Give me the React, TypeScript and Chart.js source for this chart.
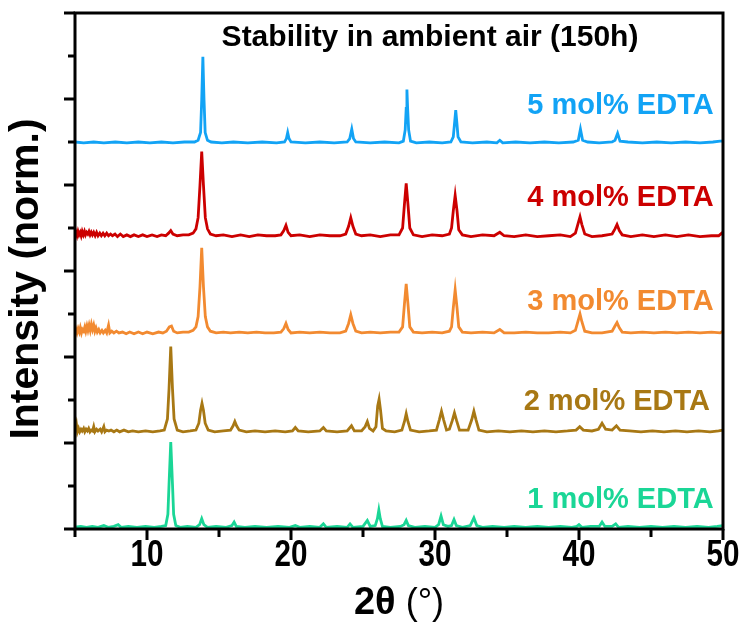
import React, { useEffect, useRef } from 'react';
import { Chart, registerables } from 'chart.js';

Chart.register(...registerables);

// ---------- data ----------
const X_MIN = 5;
const X_MAX = 50;
const Y_MIN = 0;
const Y_MAX = 6;
const X_STEP = 5;
const Y_STEP = 0.5;
const xTickLabels = ['10', '20', '30', '40', '50'];

const seriesNames = ['1 mol% EDTA', '2 mol% EDTA', '3 mol% EDTA', '4 mol% EDTA', '5 mol% EDTA'];
const seriesColors = ['#1ad696', '#a87814', '#f28a30', '#cc0000', '#12a3f5'];
const seriesOffsets = [0.02, 1.13, 2.27, 3.4, 4.49];
const labelX = [49.35, 49.1, 49.35, 49.35, 49.35];
const labelY = [0.34, 1.48, 2.64, 3.85, 4.92];

const titleText = 'Stability in ambient air (150h)';
const yTitle = 'Intensity (norm.)';
const xTitleBold = '2θ';
const xTitleRegular = ' (°)';

// 2θ (deg), normalized intensity (above each pattern's own baseline)
const pattern1: number[][] = [
  [5.0, 0.0], [5.4, 0.01], [5.8, 0.0], [6.2, 0.01], [6.6, 0.0], [7.0, 0.02], [7.3, 0.0], [7.7, 0.01], [8.0, 0.03], [8.2, 0.0],
  [8.7, 0.01], [9.3, 0.0], [9.9, 0.01], [10.5, 0.0], [11.0, 0.01], [11.3, 0.02], [11.45, 0.15], [11.53, 0.5], [11.65, 0.99],
  [11.77, 0.5], [11.85, 0.15], [12.0, 0.02], [12.3, 0.0], [12.8, 0.01], [13.4, 0.0], [13.65, 0.03], [13.8, 0.1], [13.95, 0.03],
  [14.2, 0.0], [14.8, 0.01], [15.5, 0.0], [15.9, 0.02], [16.05, 0.06], [16.2, 0.01], [16.8, 0.0], [17.5, 0.01], [18.3, 0.0],
  [19.1, 0.01], [19.9, 0.0], [20.3, 0.02], [20.6, 0.0], [21.3, 0.01], [22.0, 0.0], [22.25, 0.04], [22.45, 0.0], [23.2, 0.01],
  [23.9, 0.0], [24.1, 0.04], [24.3, 0.0], [25.0, 0.01], [25.3, 0.08], [25.5, 0.01], [25.85, 0.02], [26.0, 0.1], [26.1, 0.2],
  [26.2, 0.1], [26.35, 0.01], [26.9, 0.0], [27.6, 0.01], [27.85, 0.03], [28.0, 0.08], [28.15, 0.02], [28.6, 0.0], [29.3, 0.01],
  [30.0, 0.0], [30.25, 0.03], [30.42, 0.13], [30.58, 0.03], [30.9, 0.01], [31.15, 0.02], [31.32, 0.09], [31.48, 0.02],
  [31.9, 0.0], [32.45, 0.02], [32.7, 0.11], [32.9, 0.02], [33.3, 0.0], [34.0, 0.01], [34.8, 0.0], [35.5, 0.01], [36.3, 0.0],
  [37.1, 0.01], [37.9, 0.0], [38.7, 0.01], [39.5, 0.0], [39.85, 0.01], [40.0, 0.03], [40.2, 0.0], [40.8, 0.01], [41.4, 0.01],
  [41.6, 0.06], [41.8, 0.01], [42.3, 0.01], [42.55, 0.04], [42.75, 0.0], [43.4, 0.01], [44.2, 0.0], [45.0, 0.01], [45.8, 0.0],
  [46.6, 0.01], [47.4, 0.0], [48.2, 0.01], [49.0, 0.0], [49.6, 0.01], [50.0, 0.02],
];

const pattern2: number[][] = [
  [5.0, 0.02], [5.1, 0.09], [5.17, 0.0], [5.25, 0.04], [5.33, 0.0], [5.42, 0.03], [5.5, 0.01], [5.6, 0.04], [5.68, 0.0],
  [5.77, 0.03], [5.86, 0.01], [5.95, 0.04], [6.04, 0.0], [6.13, 0.02], [6.22, 0.01], [6.3, 0.06], [6.38, 0.0], [6.5, 0.03],
  [6.6, 0.01], [6.75, 0.03], [6.85, 0.0], [7.0, 0.06], [7.08, 0.0], [7.2, 0.02], [7.35, 0.01], [7.5, 0.02], [7.7, 0.0], [7.9, 0.02],
  [8.1, 0.0], [8.4, 0.02], [8.7, 0.0], [9.0, 0.01], [9.4, 0.0], [9.9, 0.01], [10.4, 0.0], [10.9, 0.01],
  [11.2, 0.02], [11.42, 0.15], [11.53, 0.5], [11.65, 0.99], [11.77, 0.5], [11.88, 0.15], [12.1, 0.02], [12.5, 0.0], [13.0, 0.01],
  [13.4, 0.02], [13.6, 0.1], [13.72, 0.25], [13.82, 0.33], [13.92, 0.25], [14.04, 0.1], [14.25, 0.02], [14.7, 0.0], [15.3, 0.01],
  [15.8, 0.02], [15.98, 0.07], [16.1, 0.12], [16.22, 0.07], [16.4, 0.02], [16.9, 0.0], [17.5, 0.01], [18.2, 0.0], [18.9, 0.01],
  [19.6, 0.0], [20.1, 0.01], [20.3, 0.05], [20.5, 0.01], [21.2, 0.0], [22.0, 0.01], [22.25, 0.05], [22.45, 0.01], [23.2, 0.0],
  [23.9, 0.01], [24.2, 0.07], [24.4, 0.01], [24.9, 0.01], [25.15, 0.06], [25.3, 0.12], [25.45, 0.04], [25.7, 0.01], [25.9, 0.06],
  [26.02, 0.3], [26.12, 0.38], [26.22, 0.25], [26.35, 0.04], [26.6, 0.01], [27.2, 0.0], [27.7, 0.02], [27.88, 0.12], [28.0, 0.21],
  [28.12, 0.12], [28.3, 0.02], [28.9, 0.0], [29.6, 0.01], [30.1, 0.02], [30.3, 0.14], [30.45, 0.24], [30.6, 0.14], [30.8, 0.02],
  [31.0, 0.03], [31.2, 0.13], [31.35, 0.22], [31.5, 0.13], [31.7, 0.02], [32.3, 0.02], [32.55, 0.14], [32.7, 0.24], [32.85, 0.14],
  [33.05, 0.02], [33.6, 0.0], [34.4, 0.01], [35.2, 0.0], [36.0, 0.01], [36.8, 0.0], [37.6, 0.01], [38.4, 0.0], [39.2, 0.01],
  [39.8, 0.02], [40.05, 0.06], [40.3, 0.02], [40.9, 0.01], [41.35, 0.03], [41.6, 0.1], [41.85, 0.03], [42.3, 0.02], [42.6, 0.07],
  [42.85, 0.02], [43.5, 0.01], [44.3, 0.0], [45.1, 0.01], [45.9, 0.0], [46.7, 0.01], [47.5, 0.0], [48.3, 0.01], [49.1, 0.0],
  [49.7, 0.01], [50.0, 0.02],
];

const pattern3: number[][] = [
  [5.0, 0.0], [5.07, 0.05], [5.14, 0.01], [5.22, 0.06], [5.3, 0.02], [5.37, 0.07], [5.45, 0.01], [5.52, 0.05], [5.6, 0.03],
  [5.68, 0.08], [5.75, 0.03], [5.83, 0.09], [5.9, 0.04], [5.98, 0.1], [6.06, 0.04], [6.14, 0.11], [6.22, 0.05], [6.3, 0.1],
  [6.38, 0.03], [6.46, 0.07], [6.55, 0.02], [6.65, 0.05], [6.75, 0.01], [6.87, 0.04], [6.97, 0.01], [7.1, 0.04], [7.2, 0.01],
  [7.33, 0.1], [7.42, 0.01], [7.55, 0.03], [7.7, 0.01], [7.88, 0.03], [8.05, 0.01], [8.3, 0.02], [8.55, 0.0], [8.8, 0.02],
  [9.1, 0.0], [9.4, 0.02], [9.7, 0.0], [10.0, 0.02], [10.4, 0.0], [10.8, 0.02], [11.1, 0.01], [11.35, 0.03], [11.55, 0.08],
  [11.7, 0.09], [11.85, 0.03], [12.1, 0.01], [12.5, 0.02], [12.9, 0.02], [13.2, 0.04], [13.4, 0.08], [13.55, 0.2], [13.68, 0.55],
  [13.8, 1.0], [13.92, 0.55], [14.05, 0.2], [14.2, 0.08], [14.4, 0.03], [14.8, 0.01], [15.3, 0.02], [15.8, 0.01], [16.4, 0.02],
  [17.0, 0.01], [17.6, 0.02], [18.2, 0.01], [18.8, 0.01], [19.3, 0.02], [19.5, 0.06], [19.65, 0.12], [19.8, 0.05], [20.0, 0.01],
  [20.6, 0.02], [21.3, 0.01], [22.0, 0.02], [22.7, 0.01], [23.4, 0.01], [23.8, 0.03], [24.0, 0.12], [24.15, 0.22], [24.3, 0.12],
  [24.5, 0.03], [24.9, 0.01], [25.5, 0.02], [26.2, 0.01], [26.9, 0.02], [27.5, 0.02], [27.75, 0.08], [27.88, 0.35], [28.0, 0.58],
  [28.12, 0.35], [28.25, 0.08], [28.5, 0.02], [29.1, 0.01], [29.8, 0.02], [30.5, 0.01], [31.0, 0.03], [31.15, 0.08], [31.27, 0.3],
  [31.4, 0.51], [31.53, 0.3], [31.65, 0.08], [31.9, 0.02], [32.5, 0.01], [33.3, 0.02], [34.1, 0.01], [34.5, 0.05], [34.8, 0.01],
  [35.5, 0.01], [36.3, 0.02], [37.1, 0.01], [37.9, 0.01], [38.7, 0.02], [39.4, 0.01], [39.75, 0.04], [39.95, 0.16], [40.07, 0.23],
  [40.2, 0.14], [40.4, 0.03], [40.9, 0.01], [41.6, 0.01], [42.3, 0.03], [42.5, 0.09], [42.64, 0.13], [42.8, 0.07], [43.0, 0.02],
  [43.6, 0.01], [44.4, 0.02], [45.2, 0.01], [46.0, 0.02], [46.8, 0.01], [47.6, 0.02], [48.4, 0.01], [49.2, 0.02], [49.8, 0.01],
  [50.0, 0.03],
];

const pattern4: number[][] = [
  [5.0, 0.0], [5.07, 0.05], [5.14, 0.01], [5.21, 0.06], [5.28, 0.02], [5.36, 0.05], [5.43, 0.01], [5.5, 0.06], [5.58, 0.02],
  [5.66, 0.06], [5.73, 0.02], [5.81, 0.05], [5.89, 0.03], [5.97, 0.06], [6.05, 0.02], [6.13, 0.05], [6.21, 0.02], [6.3, 0.05],
  [6.4, 0.01], [6.5, 0.05], [6.6, 0.01], [6.72, 0.04], [6.83, 0.01], [6.95, 0.04], [7.07, 0.01], [7.2, 0.04], [7.33, 0.01],
  [7.47, 0.03], [7.6, 0.01], [7.78, 0.03], [7.95, 0.0], [8.15, 0.03], [8.35, 0.0], [8.6, 0.02], [8.85, 0.0], [9.1, 0.02],
  [9.4, 0.0], [9.7, 0.02], [10.0, 0.0], [10.35, 0.02], [10.7, 0.0], [11.0, 0.02], [11.3, 0.01], [11.5, 0.04], [11.65, 0.07],
  [11.8, 0.03], [12.1, 0.01], [12.5, 0.02], [12.9, 0.02], [13.2, 0.04], [13.4, 0.09], [13.55, 0.22], [13.68, 0.6], [13.8, 0.99],
  [13.92, 0.6], [14.05, 0.22], [14.2, 0.09], [14.4, 0.03], [14.8, 0.01], [15.3, 0.02], [15.9, 0.0], [16.5, 0.02], [17.1, 0.0],
  [17.7, 0.02], [18.3, 0.01], [18.9, 0.01], [19.3, 0.02], [19.5, 0.07], [19.65, 0.13], [19.8, 0.05], [20.0, 0.01], [20.6, 0.02],
  [21.3, 0.0], [22.0, 0.02], [22.7, 0.01], [23.4, 0.01], [23.8, 0.03], [24.0, 0.12], [24.15, 0.22], [24.3, 0.12], [24.5, 0.03],
  [24.9, 0.01], [25.5, 0.02], [26.2, 0.0], [26.9, 0.02], [27.5, 0.02], [27.75, 0.1], [27.88, 0.38], [28.0, 0.62], [28.12, 0.38],
  [28.25, 0.1], [28.5, 0.02], [29.1, 0.0], [29.8, 0.02], [30.5, 0.01], [31.0, 0.03], [31.15, 0.1], [31.27, 0.3], [31.4, 0.48],
  [31.53, 0.3], [31.65, 0.08], [31.9, 0.02], [32.5, 0.0], [33.3, 0.02], [34.1, 0.01], [34.5, 0.05], [34.8, 0.01], [35.5, 0.0],
  [36.3, 0.02], [37.1, 0.0], [37.9, 0.01], [38.7, 0.02], [39.4, 0.0], [39.75, 0.04], [39.95, 0.16], [40.07, 0.23], [40.2, 0.14],
  [40.4, 0.03], [40.9, 0.0], [41.6, 0.01], [42.3, 0.03], [42.5, 0.09], [42.64, 0.14], [42.8, 0.07], [43.0, 0.02], [43.6, 0.0],
  [44.4, 0.02], [45.2, 0.0], [46.0, 0.02], [46.8, 0.0], [47.6, 0.02], [48.4, 0.0], [49.2, 0.01], [49.7, 0.01], [49.9, 0.04],
  [50.0, 0.02],
];

const pattern5: number[][] = [
  [5.0, 0.01], [5.6, 0.0], [6.3, 0.01], [7.0, 0.0], [7.8, 0.01], [8.6, 0.0], [9.4, 0.01], [10.2, 0.0], [11.0, 0.01], [11.8, 0.0],
  [12.6, 0.01], [13.3, 0.01], [13.55, 0.03], [13.72, 0.12], [13.8, 0.5], [13.88, 1.0], [13.96, 0.5], [14.04, 0.12], [14.2, 0.03],
  [14.45, 0.01], [15.2, 0.0], [16.0, 0.01], [17.0, 0.0], [18.0, 0.01], [19.0, 0.0], [19.55, 0.01], [19.68, 0.05], [19.77, 0.12],
  [19.86, 0.05], [20.0, 0.01], [21.0, 0.0], [22.0, 0.01], [23.0, 0.0], [23.9, 0.01], [24.08, 0.05], [24.22, 0.16], [24.34, 0.05],
  [24.5, 0.01], [25.5, 0.0], [26.5, 0.01], [27.5, 0.0], [27.8, 0.02], [27.93, 0.15], [28.0, 0.4], [28.05, 0.62], [28.1, 0.4],
  [28.17, 0.15], [28.3, 0.02], [28.7, 0.0], [29.6, 0.01], [30.5, 0.0], [31.1, 0.01], [31.27, 0.07], [31.37, 0.25], [31.44, 0.38],
  [31.51, 0.25], [31.6, 0.07], [31.8, 0.01], [32.6, 0.0], [33.6, 0.01], [34.3, 0.0], [34.5, 0.03], [34.7, 0.0], [35.6, 0.01],
  [36.6, 0.0], [37.6, 0.01], [38.6, 0.0], [39.6, 0.01], [39.95, 0.03], [40.1, 0.16], [40.25, 0.03], [40.6, 0.01], [41.4, 0.0],
  [42.3, 0.01], [42.5, 0.03], [42.68, 0.11], [42.85, 0.02], [43.4, 0.01], [44.4, 0.0], [45.4, 0.01], [46.4, 0.0], [47.4, 0.01],
  [48.4, 0.0], [49.3, 0.01], [49.8, 0.02], [50.0, 0.02],
];

const patterns = [pattern1, pattern2, pattern3, pattern4, pattern5];

// ---------- component ----------
const FONT = "'Liberation Sans', Arial, sans-serif";

const decorPlugin = {
  id: 'decor',
  afterDatasetsDraw(chart: any) {
    const { ctx, chartArea, scales } = chart;
    const xs = scales.x;
    const ys = scales.y;
    ctx.save();
    // frame
    ctx.strokeStyle = '#000';
    ctx.lineWidth = 3;
    ctx.strokeRect(chartArea.left, chartArea.top, chartArea.right - chartArea.left, chartArea.bottom - chartArea.top);
    // tick marks
    ctx.lineCap = 'butt';
    xs.ticks.forEach((t: any) => {
      const px = xs.getPixelForValue(t.value);
      const major = Math.abs(t.value % 10) < 1e-6;
      ctx.beginPath();
      ctx.moveTo(px, chartArea.bottom);
      ctx.lineTo(px, chartArea.bottom + (major ? 11 : 8));
      ctx.stroke();
    });
    ys.ticks.forEach((t: any) => {
      const py = ys.getPixelForValue(t.value);
      const major = Math.abs(t.value % 1) < 1e-6;
      ctx.beginPath();
      ctx.moveTo(chartArea.left, py);
      ctx.lineTo(chartArea.left - (major ? 11 : 7), py);
      ctx.stroke();
    });
    // x tick labels (condensed bold)
    ctx.fillStyle = '#000';
    ctx.textBaseline = 'middle';
    ctx.textAlign = 'center';
    ctx.font = `bold 37px ${FONT}`;
    xTickLabels.forEach((lab) => {
      const px = xs.getPixelForValue(Number(lab));
      ctx.save();
      ctx.translate(px, 556);
      ctx.scale(0.8, 1);
      ctx.fillText(lab, 0, 0);
      ctx.restore();
    });
    // y title
    ctx.save();
    ctx.translate(27, 279);
    ctx.rotate(-Math.PI / 2);
    ctx.font = `bold 41px ${FONT}`;
    ctx.fillText(yTitle, 0, 0);
    ctx.restore();
    // title inside plot
    ctx.font = `bold 30px ${FONT}`;
    ctx.fillText(titleText, 430, 38);
    // series labels
    ctx.textAlign = 'right';
    ctx.font = `bold 29px ${FONT}`;
    seriesNames.forEach((name, i) => {
      ctx.fillStyle = seriesColors[i];
      ctx.fillText(name, xs.getPixelForValue(labelX[i]), ys.getPixelForValue(labelY[i]));
    });
    // x title with mixed weights
    ctx.fillStyle = '#000';
    ctx.textAlign = 'left';
    ctx.font = `bold 38px ${FONT}`;
    const w1 = ctx.measureText(xTitleBold).width;
    ctx.font = `36px ${FONT}`;
    const w2 = ctx.measureText(xTitleRegular).width;
    const cx = (chartArea.left + chartArea.right) / 2;
    const startX = cx - (w1 + w2) / 2;
    ctx.font = `bold 38px ${FONT}`;
    ctx.fillText(xTitleBold, startX, 604);
    ctx.font = `36px ${FONT}`;
    ctx.fillText(xTitleRegular, startX + w1, 604);
    ctx.restore();
  },
};

export default function App() {
  const ref = useRef<HTMLCanvasElement | null>(null);
  useEffect(() => {
    if (!ref.current) return;
    const datasets = patterns.map((p, i) => ({
      label: seriesNames[i],
      data: p.map(([x, y]) => ({ x, y: y + seriesOffsets[i] })),
      borderColor: seriesColors[i],
      backgroundColor: seriesColors[i],
      borderWidth: 2.8,
      pointRadius: 0,
      tension: 0,
      fill: false,
    }));
    const chart = new Chart(ref.current, {
      type: 'line',
      data: { datasets },
      options: {
        animation: false,
        responsive: false,
        devicePixelRatio: 1,
        layout: { padding: { top: 13, right: 23, left: 0, bottom: 0 } },
        plugins: { legend: { display: false }, tooltip: { enabled: false }, title: { display: false } },
        scales: {
          x: {
            type: 'linear',
            min: X_MIN,
            max: X_MAX,
            grid: { display: false, drawTicks: false },
            border: { display: false },
            ticks: { stepSize: X_STEP, display: false, autoSkip: false },
            afterFit: (s: any) => { s.height = 106; s.paddingLeft = 0; s.paddingRight = 0; },
          },
          y: {
            type: 'linear',
            min: Y_MIN,
            max: Y_MAX,
            grid: { display: false, drawTicks: false },
            border: { display: false },
            ticks: { stepSize: Y_STEP, display: false },
            afterFit: (s: any) => { s.width = 75; s.paddingTop = 0; s.paddingBottom = 0; },
          },
        },
      },
      plugins: [decorPlugin],
    });
    return () => chart.destroy();
  }, []);
  return (
    <div style={{ position: 'absolute', left: 0, top: 0, width: 746, height: 635, background: '#fff' }}>
      <canvas ref={ref} width={746} height={635} style={{ width: 746, height: 635, display: 'block' }} />
    </div>
  );
}
